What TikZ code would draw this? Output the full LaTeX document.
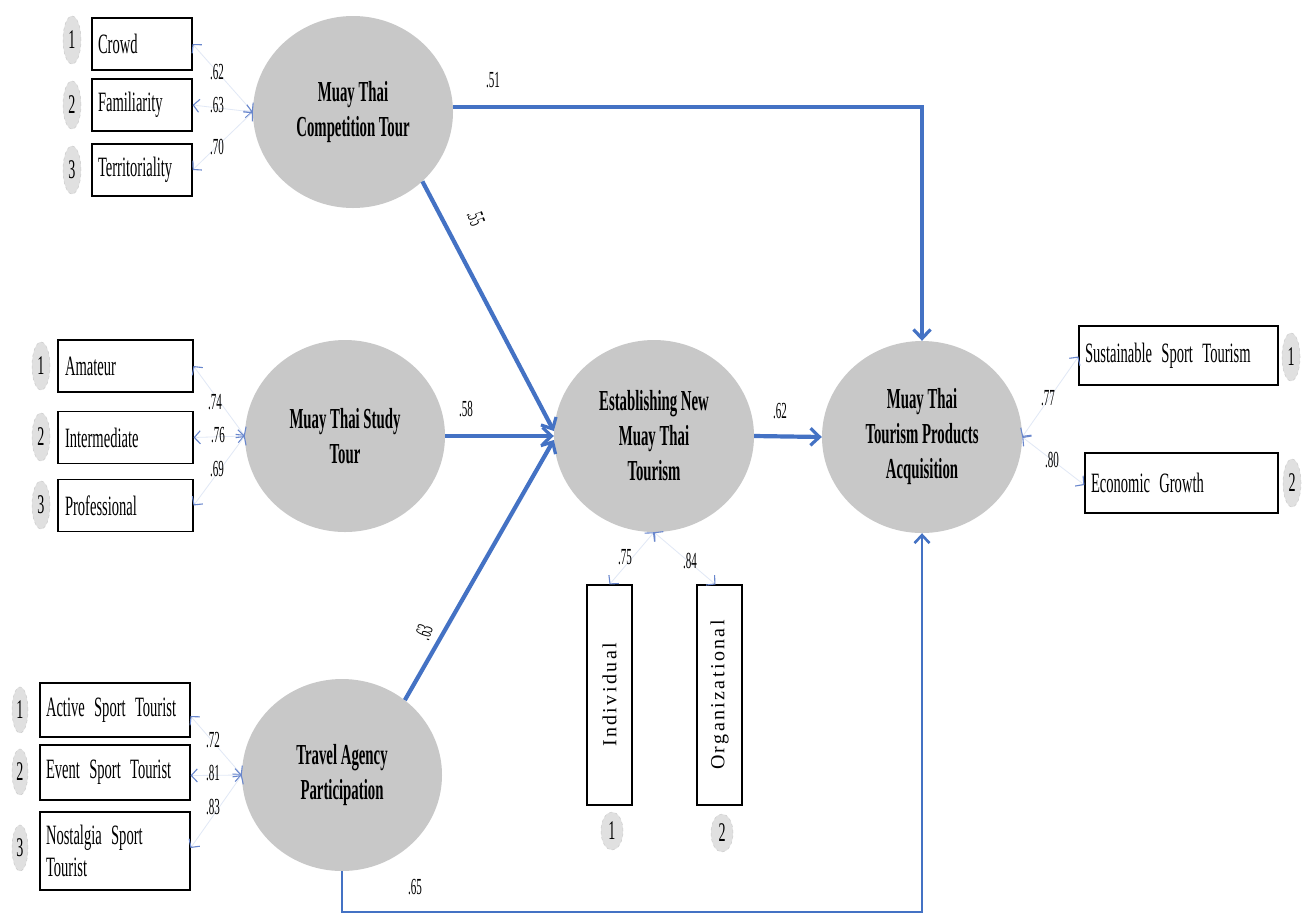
\documentclass[tikz,border=0pt]{standalone}
\usepackage{fontspec}
\setmainfont{Liberation Serif}
\newfontfamily\cond[FakeStretch=0.52]{Liberation Serif}
\newfontfamily\condl[FakeStretch=0.48]{Liberation Serif}
\newfontfamily\condb[FakeStretch=0.51]{Liberation Serif Bold}
\newfontfamily\spaced[LetterSpace=12]{Liberation Serif}
\usetikzlibrary{arrows.meta,shapes.geometric}
\definecolor{pathblue}{RGB}{68,114,196}
\definecolor{loadblue}{RGB}{105,135,205}
\definecolor{faintblue}{RGB}{225,232,246}
\definecolor{latgray}{RGB}{200,200,200}
\definecolor{numgray}{RGB}{224,224,224}
\begin{document}
\begin{tikzpicture}[x=1pt,y=-1pt,
  latent/.style={ellipse, fill=latgray, minimum width=200pt, minimum height=192pt,
     inner sep=0pt, align=center, font=\condb\fontsize{29}{35}\selectfont},
  ind/.style={draw=black, line width=1.1pt, fill=white, inner sep=0pt, align=left,
     font=\cond\fontsize{28}{32}\selectfont},
  vind/.style={draw=black, line width=1.1pt, fill=white, inner sep=0pt,
     minimum width=45pt, minimum height=220pt, font=\spaced\fontsize{20}{22}\selectfont},
  num/.style={ellipse, fill=numgray, draw=gray!40, dashed, line width=0.5pt,
     minimum width=18pt, minimum height=48pt, inner sep=0pt, font=\cond\fontsize{27}{27}\selectfont},
  lbl/.style={font=\condl\fontsize{23}{23}\selectfont, inner sep=0pt},
  path/.style={draw=pathblue, line width=4.2pt, -{Straight Barb[length=9pt,width=17pt,line width=3.2pt]}},
  thinpath/.style={draw=pathblue, line width=2.8pt, -{Straight Barb[length=8pt,width=15pt,line width=2.6pt]}},
  load/.style={draw=faintblue, line width=0.8pt,
     {Straight Barb[length=6pt,width=13pt,line width=1.1pt,color=loadblue]}-{Straight Barb[length=6pt,width=13pt,line width=1.1pt,color=loadblue]}}
]
\useasboundingbox (0,0) rectangle (1308,914);
\fill[white] (0,0) rectangle (1308,914);

% latent variables
\node[latent] (comp) at (353,112) {Muay Thai\\Competition Tour};
\node[latent] (study) at (345,436) {Muay Thai Study\\Tour};
\node[latent] (travel) at (342,775) {Travel Agency\\Participation};
\node[latent] (est) at (654,436) {Establishing New\\Muay Thai\\Tourism};
\node[latent] (acq) at (922,437) {Muay Thai\\Tourism Products\\Acquisition};

% indicators: competition
\node[ind, minimum width=100pt, minimum height=52pt, text width=88pt] (crowd) at (142,44) {Crowd};
\node[ind, minimum width=100pt, minimum height=52pt, text width=88pt] (fam) at (142,105) {Familiarity};
\node[ind, minimum width=100pt, minimum height=52pt, text width=88pt] (terr) at (142,170) {Territoriality};
\node[num] (n1a) at (72,40) {1};
\node[num] (n2a) at (72,105) {2};
\node[num] (n3a) at (72,170) {3};

% indicators: study
\node[ind, minimum width=135pt, minimum height=52pt, text width=121pt] (amat) at (125.5,366) {Amateur};
\node[ind, minimum width=135pt, minimum height=52pt, text width=121pt] (inter) at (125.5,437.5) {Intermediate};
\node[ind, minimum width=135pt, minimum height=52pt, text width=121pt] (prof) at (125.5,505.5) {Professional};
\node[num] (n1b) at (41,366) {1};
\node[num] (n2b) at (41,437) {2};
\node[num] (n3b) at (41,505) {3};

% indicators: travel
\node[ind, minimum width=150pt, minimum height=54pt, text width=138pt] (active) at (115,710) {Active Sport Tourist};
\node[ind, minimum width=150pt, minimum height=55pt, text width=138pt] (event) at (115,772.5) {Event Sport Tourist};
\node[ind, minimum width=150pt, minimum height=78pt, text width=138pt] (nost) at (115,851) {Nostalgia Sport\\Tourist};
\node[num, minimum width=16pt, minimum height=46pt] (n1c) at (20,710) {1};
\node[num, minimum width=16pt, minimum height=46pt] (n2c) at (20,772) {2};
\node[num, minimum width=16pt, minimum height=46pt] (n3c) at (20,848) {3};

% indicators: establishing
\node[vind] (indiv) at (609.5,695) {\rotatebox{90}{Individual}};
\node[vind] (org) at (719.5,695) {\rotatebox{90}{Organizational}};
\node[num, minimum width=22pt, minimum height=38pt] (n1d) at (612,831) {1};
\node[num, minimum width=22pt, minimum height=38pt] (n2d) at (722,833) {2};

% indicators: acquisition
\node[ind, minimum width=199pt, minimum height=59pt, text width=187pt] (sust) at (1178.5,355.5) {Sustainable Sport Tourism};
\node[ind, minimum width=193pt, minimum height=60pt, text width=181pt] (econ) at (1181.5,483) {Economic Growth};
\node[num] (n1e) at (1291,357) {1};
\node[num] (n2e) at (1292,483) {2};

% loadings
\draw[load] (comp.west) -- (crowd.east);
\draw[load] (comp.west) -- (fam.east);
\draw[load] (comp.west) -- (terr.east);
\draw[load] (study.west) -- (amat.east);
\draw[load] (study.west) -- (inter.east);
\draw[load] (study.west) -- (prof.east);
\draw[load] (travel.west) -- ([yshift=-6pt]active.east);
\draw[load] (travel.west) -- ([yshift=-3pt]event.east);
\draw[load] (travel.west) -- ([yshift=3pt]nost.east);
\draw[load] (acq.east) -- ([yshift=-1pt]sust.west);
\draw[load] (acq.east) -- ([yshift=-2pt]econ.west);
\draw[load] (est.south) -- (indiv.north);
\draw[load] (est.south) -- ([xshift=-4pt]org.north);

% loading labels
\node[lbl] (l62) at (217,72) {.62};
\node[lbl] (l63) at (217,105) {.63};
\node[lbl] (l70) at (217,147) {.70};
\node[lbl] (l74) at (215,402) {.74};
\node[lbl] (l76) at (218,435) {.76};
\node[lbl] (l69) at (217,469) {.69};
\node[lbl] (l72) at (213,740) {.72};
\node[lbl] (l81) at (213,773) {.81};
\node[lbl] (l83) at (213,807) {.83};
\node[lbl] (l77) at (1048,398) {.77};
\node[lbl] (l80) at (1052,460) {.80};
\node[lbl] (l75) at (625,557) {.75};
\node[lbl] (l84) at (690,561) {.84};

% structural paths
\coordinate (tr) at (922,107);
\draw[path] (tr -| comp.east) -- (tr) -- (acq.north);
\draw[path] (comp.-45) -- ([yshift=5pt]est.west);
\draw[path] (study.east) -- (est.west);
\draw[path] (travel.50) -- ([yshift=-4pt]est.west);
\draw[path] (est.east) -- (acq.west);
\coordinate (bl) at (342,912);
\coordinate (br) at (922,912);
\draw[thinpath] (travel.south) -- (bl) -- (br) -- (acq.south);

\node[lbl] (p51) at (493,80) {.51};
\node[lbl, rotate=-68] (p55) at (476,218) {.55};
\node[lbl] (p58) at (466,409) {.58};
\node[lbl, rotate=70] (p63) at (424,632) {.63};
\node[lbl] (p62) at (780,411) {.62};
\node[lbl] (p65) at (415,887) {.65};
\end{tikzpicture}
\end{document}
